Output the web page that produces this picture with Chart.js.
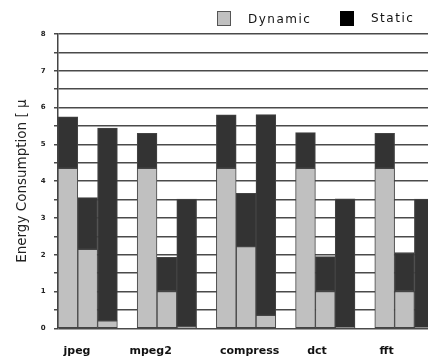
<!DOCTYPE html>
<html>
<head>
<meta charset="utf-8">
<script src="https://cdn.jsdelivr.net/npm/chart.js@4.4.0/dist/chart.umd.min.js"></script>
<style>
html,body{margin:0;padding:0;width:428px;height:362px;overflow:hidden;background:#fff;}
#wrap{position:absolute;left:0;top:0;width:454px;height:362px;}
.lg{position:absolute;font-family:"DejaVu Sans",sans-serif;font-size:12px;color:#111;letter-spacing:1.5px;}
.bx{position:absolute;width:14px;height:15px;box-sizing:border-box;}
</style>
</head>
<body>
<div id="wrap"><canvas id="c" width="454" height="362"></canvas></div>
<div class="bx" style="left:217px;top:11px;background:#c0c0c0;border:1.5px solid #555;"></div>
<div class="lg" style="left:248px;top:12px;">Dynamic</div>
<div class="bx" style="left:340px;top:11px;background:#000;border:1px solid #000;"></div>
<div class="lg" style="left:371px;top:11px;">Static</div>
<script>
const categories = ['jpeg', 'mpeg2', 'compress', 'dct', 'fft'];
const dynamicA = [4.35, 4.35, 4.35, 4.35, 4.35];
const staticA  = [1.40, 0.95, 1.45, 0.97, 0.95];
const dynamicB = [2.15, 1.00, 2.22, 1.00, 1.00];
const staticB  = [1.40, 0.93, 1.45, 0.95, 1.06];
const dynamicC = [0.20, 0.04, 0.35, 0.02, 0.02];
const staticC  = [5.24, 3.47, 5.46, 3.50, 3.49];
const yTicks = [0, 1, 2, 3, 4, 5, 6, 7, 8];
const labelPos = [0.24, 1.17, 2.42, 3.27, 4.15];

const DYN = '#c0c0c0', STA = '#333333', EDGE = '#444444';
function ds(label, data, stack, color) {
  return {label, data, stack, backgroundColor: color, borderColor: EDGE, borderWidth: 1,
          barPercentage: 1, categoryPercentage: 1, borderSkipped: false};
}
const datasets = [
  ds('Dynamic', dynamicA, 'a', DYN), ds('Static', staticA, 'a', STA),
  ds('Dynamic', dynamicB, 'b', DYN), ds('Static', staticB, 'b', STA),
  ds('Dynamic', dynamicC, 'c', DYN), ds('Static', staticC, 'c', STA),
  {label: 'gap', data: categories.map(() => 0), stack: 'gap', backgroundColor: 'rgba(0,0,0,0)',
   borderWidth: 0, barPercentage: 1, categoryPercentage: 1}
];

new Chart(document.getElementById('c'), {
  type: 'bar',
  data: {labels: categories, datasets},
  options: {
    responsive: false,
    animation: false,
    devicePixelRatio: 1,
    layout: {padding: {top: 34, left: 13, right: 0, bottom: 0}},
    plugins: {legend: {display: false}, tooltip: {enabled: false}},
    scales: {
      x: {display: false, stacked: true},
      xl: {
        type: 'linear', position: 'bottom', min: 0, max: 5, offset: false,
        grid: {display: false, drawTicks: true, tickLength: 11.5}, border: {display: false},
        afterBuildTicks: (axis) => { axis.ticks = labelPos.map(v => ({value: v})); },
        ticks: {
          autoSkip: false, maxRotation: 0, padding: 4.5,
          font: {family: '"DejaVu Sans", sans-serif', size: 11, weight: 'bold'},
          color: '#111',
          callback: (v, i) => categories[i]
        }
      },
      y: {
        stacked: true, min: 0, max: 8,
        afterBuildTicks: (axis) => {
          const t = [];
          yTicks.forEach((v, i) => { t.push({value: v}); if (i < yTicks.length - 1) t.push({value: v + 0.5}); });
          axis.ticks = t;
        },
        grid: {color: '#4a4a4a', lineWidth: 1.5, tickLength: 4, tickColor: '#4a4a4a'},
        border: {color: '#444', width: 1.5},
        ticks: {
          padding: 8.3, color: '#222',
          font: {family: '"DejaVu Sans", sans-serif', size: 7, weight: 'bold'},
          callback: (v) => (Number.isInteger(v) ? String(v) : '')
        },
        title: {
          display: true, text: 'Energy Consumption [ μ', color: '#222', padding: 3,
          font: {family: '"DejaVu Sans", sans-serif', size: 13.5, lineHeight: 1}
        }
      }
    }
  }
});
</script>
</body>
</html>
